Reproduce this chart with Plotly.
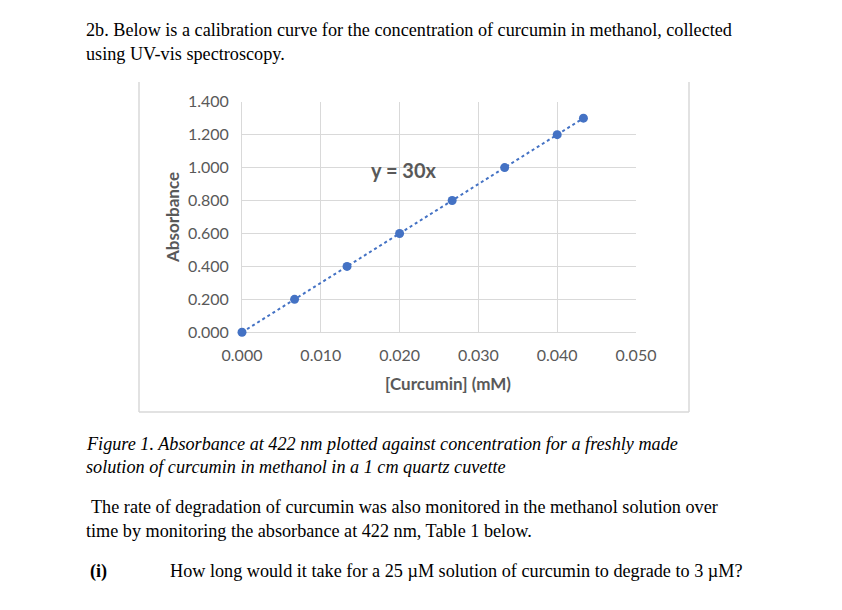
import plotly.graph_objects as go

# page offset of the plot div inside the browser window (body margin)
OFF = 8
W, H = 842 - OFF, 610 - OFF

# Data
conc_mM = [0.0, 0.00667, 0.01333, 0.020, 0.02667, 0.03333, 0.040, 0.04333]
absorbance = [0.0, 0.2, 0.4, 0.6, 0.8, 1.0, 1.2, 1.3]
slope = 30
x_ticks = [0.0, 0.01, 0.02, 0.03, 0.04, 0.05]
y_ticks = [0.0, 0.2, 0.4, 0.6, 0.8, 1.0, 1.2, 1.4]

def px(x):
    return (x - OFF) / W

def py(y):
    return 1 - (y - OFF) / H

blue = "#4472C4"
grey_txt = "#595959"
grid = "#D9D9D9"

fig = go.Figure()

trend_x = [min(conc_mM), max(conc_mM)]
trend_y = [slope * v for v in trend_x]
fig.add_trace(go.Scatter(x=trend_x, y=trend_y, mode="lines",
                         line=dict(color=blue, width=2, dash="dot"),
                         hoverinfo="skip", showlegend=False, cliponaxis=False))
fig.add_trace(go.Scatter(x=conc_mM, y=absorbance, mode="markers",
                         marker=dict(color=blue, size=9, line=dict(width=0)),
                         showlegend=False, cliponaxis=False))

fig.update_layout(
    width=W, height=H, autosize=False,
    margin=dict(l=0, r=0, t=0, b=0, pad=0, autoexpand=False),
    paper_bgcolor="white", plot_bgcolor="white",
    xaxis=dict(domain=[px(242), px(636)], range=[0, 0.05], automargin=False,
               tickvals=x_ticks, ticktext=[f"{v:.3f}" for v in x_ticks],
               showgrid=True, gridcolor=grid, gridwidth=1,
               showline=True, linecolor=grid, mirror=False, layer="below traces",
               zeroline=False, ticks="", ticklabelstandoff=8,
               tickfont=dict(family="Lato", size=16, color=grey_txt)),
    yaxis=dict(domain=[py(332.3), py(101.7)], range=[0, 1.4], automargin=False,
               tickvals=y_ticks, ticktext=[f"{v:.3f}" for v in y_ticks],
               showgrid=True, gridcolor=grid, gridwidth=1,
               showline=True, linecolor=grid, layer="below traces",
               zeroline=False, ticks="", ticklabelstandoff=9,
               tickfont=dict(family="Lato", size=16, color=grey_txt)),
)

# chart frame (left, right, bottom)
frame = "#D9D9D9"
for x0, y0, x1, y1 in [(139, 82, 139, 412), (689, 82, 689, 412), (139, 412, 689, 412)]:
    fig.add_shape(type="line", xref="paper", yref="paper",
                  x0=px(x0), y0=py(y0), x1=px(x1), y1=py(y1),
                  line=dict(color=frame, width=1.5))

ann = []

def text(x, y, s, size=18.2, family="Liberation Serif", color="black", anchor="left", angle=0):
    ann.append(dict(x=px(x), y=py(y), xref="paper", yref="paper", text=s,
                    showarrow=False, xanchor=anchor, yanchor="middle",
                    font=dict(family=family, size=size, color=color), textangle=angle))

text(84, 30, "2b. Below is a calibration curve for the concentration of curcumin in methanol, collected")
text(84, 54, "using UV-vis spectroscopy.")
text(84, 444, "<i>Figure 1. Absorbance at 422 nm plotted against concentration for a freshly made</i>")
text(84, 467, "<i>solution of curcumin in methanol in a 1 cm quartz cuvette</i>")
text(89, 507, "The rate of degradation of curcumin was also monitored in the methanol solution over")
text(84, 531, "time by monitoring the absorbance at 422 nm, Table 1 below.")
text(88, 571, "<b>(i)</b>")
text(168, 571, "How long would it take for a 25 µM solution of curcumin to degrade to 3 µM?")

text(173, 218, "<b>Absorbance</b>", size=17, family="Lato", color=grey_txt, anchor="center", angle=-90)
text(448, 383, "<b>[Curcumin] (mM)</b>", size=17, family="Lato", color=grey_txt, anchor="center")
text(404, 170, "<b>y = 30x</b>", size=20, family="Lato", color=grey_txt, anchor="center")

fig.update_layout(annotations=ann)
fig.write_html("out.html")
